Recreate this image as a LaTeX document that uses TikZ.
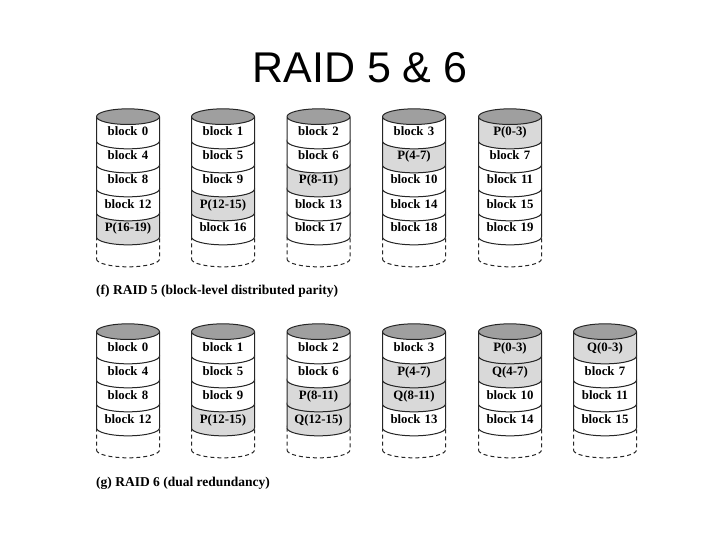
\documentclass[tikz,border=0pt]{standalone}
\usepackage{fontspec}
\setmainfont{Liberation Serif}
\newfontfamily\titlefont{Liberation Sans}
\usepackage{xcolor}
\usetikzlibrary{shapes.geometric}

\begin{document}
\begin{tikzpicture}[
    x=1pt, y=-1pt,
    diskcell/.style={draw=black!85, line width=1pt, cylinder, shape border rotate=90, shape aspect=0.29,
        minimum width=63pt, minimum height=40pt, inner sep=0pt, outer sep=0pt, yshift=-1pt,
        text width=54pt, align=center, text height=8.5pt, text depth=2.5pt,
        cylinder uses custom fill, cylinder body fill=white, cylinder end fill=gray!75,
        font=\fontsize{12.8}{14}\selectfont\bfseries},
    paritycell/.style={diskcell, cylinder body fill=gray!30},
    diskspare/.style={diskcell, dash pattern=on 4pt off 3pt, cylinder end fill=white},
    caption/.style={anchor=west, inner sep=0pt, font=\fontsize{13.5}{15}\selectfont\bfseries}
]
\useasboundingbox (0,0) rectangle (720,540);

\node[anchor=center, inner sep=0pt, font=\fontsize{43}{48}\titlefont] (title) at (360,68) {RAID 5 \& 6};

% RAID 5
\node[diskspare] (f1s) at (128,250) {};
\node[paritycell] (f15) at (128,228) {P(16-19)};
\node[diskcell] (f14) at (128,204) {block 12};
\node[diskcell] (f13) at (128,180) {block 8};
\node[diskcell] (f12) at (128,156) {block 4};
\node[diskcell] (f11) at (128,132) {block 0};

\node[diskspare] (f2s) at (223,250) {};
\node[diskcell] (f25) at (223,228) {block 16};
\node[paritycell] (f24) at (223,204) {P(12-15)};
\node[diskcell] (f23) at (223,180) {block 9};
\node[diskcell] (f22) at (223,156) {block 5};
\node[diskcell] (f21) at (223,132) {block 1};

\node[diskspare] (f3s) at (318.5,250) {};
\node[diskcell] (f35) at (318.5,228) {block 17};
\node[diskcell] (f34) at (318.5,204) {block 13};
\node[paritycell] (f33) at (318.5,180) {P(8-11)};
\node[diskcell] (f32) at (318.5,156) {block 6};
\node[diskcell] (f31) at (318.5,132) {block 2};

\node[diskspare] (f4s) at (414,250) {};
\node[diskcell] (f45) at (414,228) {block 18};
\node[diskcell] (f44) at (414,204) {block 14};
\node[diskcell] (f43) at (414,180) {block 10};
\node[paritycell] (f42) at (414,156) {P(4-7)};
\node[diskcell] (f41) at (414,132) {block 3};

\node[diskspare] (f5s) at (510,250) {};
\node[diskcell] (f55) at (510,228) {block 19};
\node[diskcell] (f54) at (510,204) {block 15};
\node[diskcell] (f53) at (510,180) {block 11};
\node[diskcell] (f52) at (510,156) {block 7};
\node[paritycell] (f51) at (510,132) {P(0-3)};

\node[caption] (fcap) at (96,291) {(f) RAID 5 (block-level distributed parity)};

% RAID 6
\node[diskspare] (g1s) at (128,441) {};
\node[diskcell] (g14) at (128,419) {block 12};
\node[diskcell] (g13) at (128,395) {block 8};
\node[diskcell] (g12) at (128,371) {block 4};
\node[diskcell] (g11) at (128,347) {block 0};

\node[diskspare] (g2s) at (223,441) {};
\node[paritycell] (g24) at (223,419) {P(12-15)};
\node[diskcell] (g23) at (223,395) {block 9};
\node[diskcell] (g22) at (223,371) {block 5};
\node[diskcell] (g21) at (223,347) {block 1};

\node[diskspare] (g3s) at (318.5,441) {};
\node[paritycell] (g34) at (318.5,419) {Q(12-15)};
\node[paritycell] (g33) at (318.5,395) {P(8-11)};
\node[diskcell] (g32) at (318.5,371) {block 6};
\node[diskcell] (g31) at (318.5,347) {block 2};

\node[diskspare] (g4s) at (414,441) {};
\node[diskcell] (g44) at (414,419) {block 13};
\node[paritycell] (g43) at (414,395) {Q(8-11)};
\node[paritycell] (g42) at (414,371) {P(4-7)};
\node[diskcell] (g41) at (414,347) {block 3};

\node[diskspare] (g5s) at (510,441) {};
\node[diskcell] (g54) at (510,419) {block 14};
\node[diskcell] (g53) at (510,395) {block 10};
\node[paritycell] (g52) at (510,371) {Q(4-7)};
\node[paritycell] (g51) at (510,347) {P(0-3)};

\node[diskspare] (g6s) at (605,441) {};
\node[diskcell] (g64) at (605,419) {block 15};
\node[diskcell] (g63) at (605,395) {block 11};
\node[diskcell] (g62) at (605,371) {block 7};
\node[paritycell] (g61) at (605,347) {Q(0-3)};

\node[caption] (gcap) at (96,483) {(g) RAID 6 (dual redundancy)};

\end{tikzpicture}
\end{document}
